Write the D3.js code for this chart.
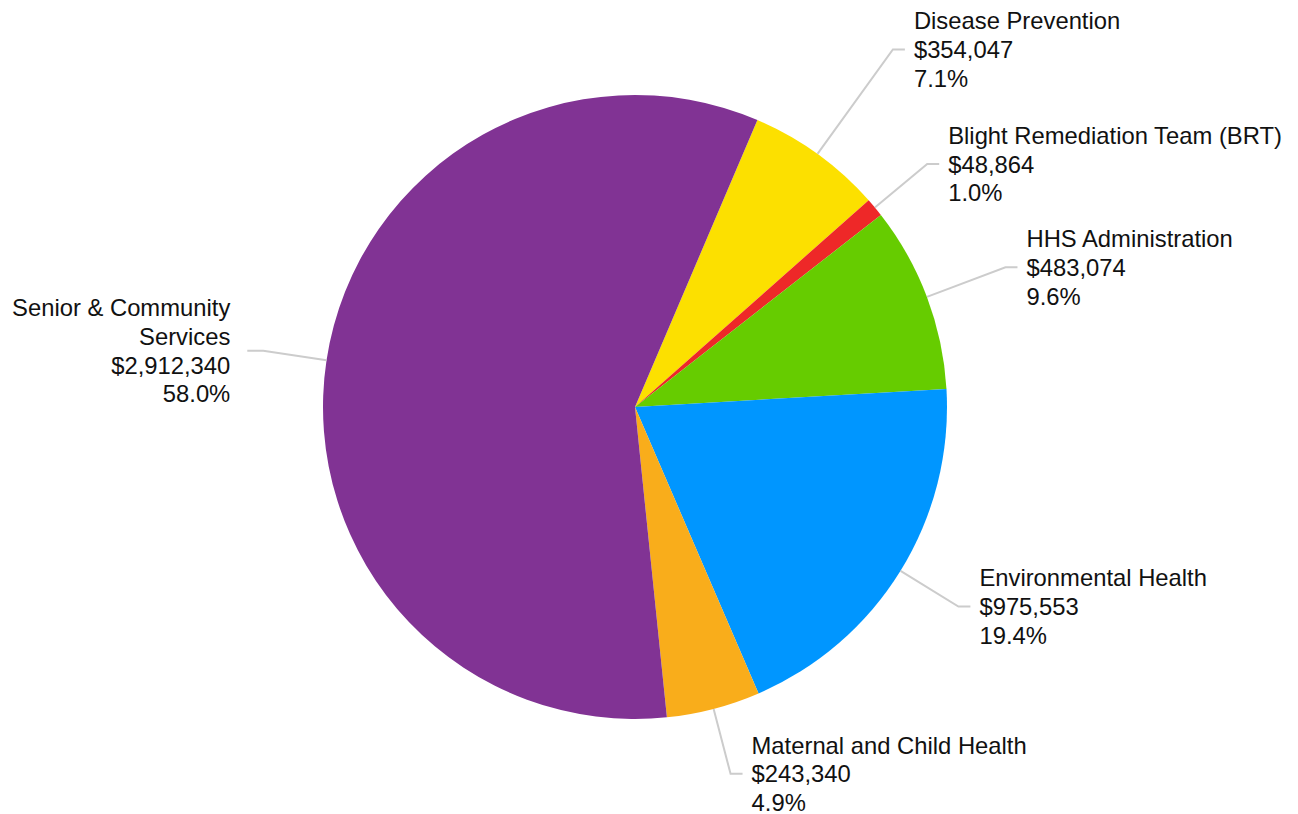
<!DOCTYPE html>
<html>
<head>
<meta charset="utf-8">
<script src="https://cdn.jsdelivr.net/npm/d3@7"></script>
<style>
  html, body { margin: 0; padding: 0; background: #fff; }
  svg { display: block; }
</style>
</head>
<body>
<svg id="chart" width="1298" height="814"></svg>
<script>
// ---- data ----
const categories = [
  "Disease Prevention",
  "Blight Remediation Team (BRT)",
  "HHS Administration",
  "Environmental Health",
  "Maternal and Child Health",
  "Senior & Community Services"
];
const values = [354047, 48864, 483074, 975553, 243340, 2912340];
const colors = ["#FCE000", "#EE2828", "#66CC00", "#0096FF", "#F9AD1B", "#813394"];

// ---- layout (not data) ----
const W = 1298, H = 814;
const cx = 635, cy = 407, R = 312;
const startDeg = 23.1;
const labelRadiusFactor = [1.413, 1.218, 1.269, 1.218, 1.215, 1.205];
const fontSize = 23.8, lineH = 28.7, capH = fontSize * 0.716;

const svg = d3.select("#chart");
const total = d3.sum(values);
const data = categories.map((c, i) => ({ name: c, value: values[i], color: colors[i], i }));

const pie = d3.pie().value(d => d.value).sort(null)
  .startAngle(startDeg * Math.PI / 180)
  .endAngle(startDeg * Math.PI / 180 + 2 * Math.PI);
const arcs = pie(data);
const arc = d3.arc().innerRadius(0).outerRadius(R);

const g = svg.append("g").attr("transform", `translate(${cx},${cy})`);
g.selectAll("path.slice").data(arcs).join("path")
  .attr("class", "slice")
  .attr("d", arc)
  .attr("fill", d => d.data.color);

const fmtMoney = v => "$" + d3.format(",")(v);
const fmtPct = v => d3.format(".1f")(v / total * 100) + "%";

// measuring helper
const meas = svg.append("text").attr("font-family", "Arial, 'Liberation Sans', sans-serif")
  .attr("font-size", fontSize).attr("visibility", "hidden");
function textWidth(s) { meas.text(s); return meas.node().getComputedTextLength(); }
function wrap(s, maxW) {
  const words = s.split(" ");
  const lines = [];
  let cur = "";
  words.forEach(w => {
    const t = cur ? cur + " " + w : w;
    if (cur && textWidth(t) > maxW) { lines.push(cur); cur = w; }
    else cur = t;
  });
  if (cur) lines.push(cur);
  return lines;
}

const labels = svg.append("g");
arcs.forEach((a, k) => {
  const mid = (a.startAngle + a.endAngle) / 2;
  const sx = Math.sin(mid), sy = -Math.cos(mid);
  const p0 = [cx + R * sx, cy + R * sy];
  const rr = R * labelRadiusFactor[a.data.i];
  const p1 = [cx + rr * sx, cy + rr * sy];
  const right = sx >= 0;
  const horiz = right ? 12 : 16, gap = right ? 9 : 17;
  const p2 = [p1[0] + (right ? horiz : -horiz), p1[1]];
  const tx = p2[0] + (right ? gap : -gap);

  labels.append("polyline")
    .attr("points", [p0, p1, p2].map(p => p.join(",")).join(" "))
    .attr("fill", "none")
    .attr("stroke", "#cccccc")
    .attr("stroke-width", 2);

  const avail = right ? (W - tx - 8) : (tx - 8);
  const lines = wrap(a.data.name, avail).concat([fmtMoney(a.data.value), fmtPct(a.data.value)]);
  const n = lines.length;
  const firstBase = p1[1] - ((n - 1) * lineH - capH) / 2;
  const t = labels.append("text")
    .attr("font-family", "Arial, 'Liberation Sans', sans-serif")
    .attr("font-size", fontSize)
    .attr("fill", "#111")
    .attr("text-anchor", right ? "start" : "end");
  lines.forEach((ln, j) => {
    t.append("tspan").attr("x", tx).attr("y", firstBase + j * lineH).text(ln);
  });
});
meas.remove();
</script>
</body>
</html>
